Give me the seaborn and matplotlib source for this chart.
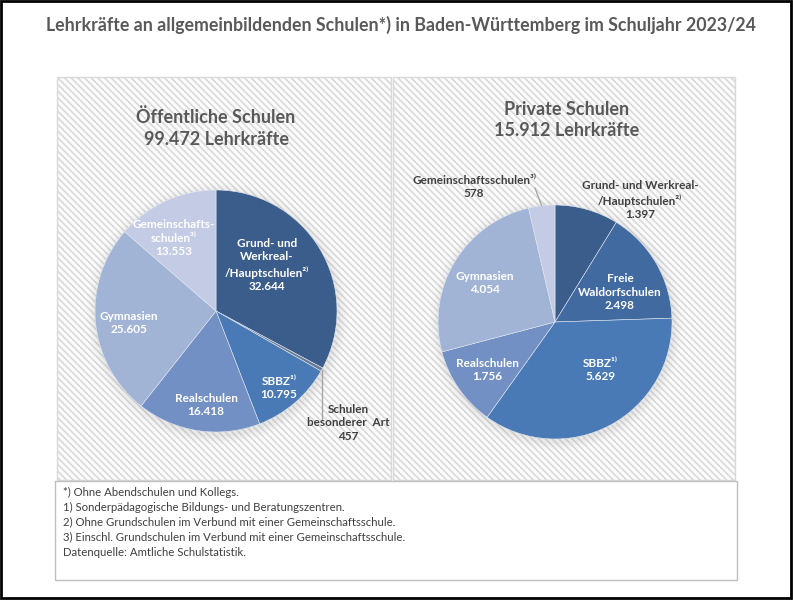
import matplotlib
matplotlib.use("Agg")
import matplotlib.pyplot as plt
import seaborn as sns
import numpy as np
from matplotlib.patches import Rectangle, Circle

# Daten (Lehrkräfte, Schuljahr 2023/24)
oeff_kategorien = ["Grund- und\nWerkreal-\n/Hauptschulen²⁾", "Schulen\nbesonderer  Art", "SBBZ¹⁾",
                   "Realschulen", "Gymnasien", "Gemeinschafts-\nschulen³⁾"]
oeff_werte = [32644, 457, 10795, 16418, 25605, 13553]
priv_kategorien = ["Grund- und Werkreal-\n/Hauptschulen²⁾", "Freie\nWaldorfschulen", "SBBZ¹⁾",
                   "Realschulen", "Gymnasien", "Gemeinschaftsschulen³⁾"]
priv_werte = [1397, 2498, 5629, 1756, 4054, 578]

oeff_farben = ["#3A5D8C", "#6A7C96", "#4A7AB5", "#7290C4", "#A2B4D6", "#C3CCE4"]
priv_farben = ["#3A5D8C", "#416AA0", "#4A7AB5", "#7290C4", "#A2B4D6", "#C3CCE4"]

titel = "Lehrkräfte an allgemeinbildenden Schulen*) in Baden-Württemberg im Schuljahr 2023/24"
fussnoten = ["*) Ohne Abendschulen und Kollegs.",
             "1) Sonderpädagogische Bildungs- und Beratungszentren.",
             "2) Ohne Grundschulen im Verbund mit einer Gemeinschaftsschule.",
             "3) Einschl. Grundschulen im Verbund mit einer Gemeinschaftsschule.",
             "Datenquelle: Amtliche Schulstatistik."]

sns.set_theme(style="white")
plt.rcParams['font.family'] = ['Lato', 'DejaVu Sans']
plt.rcParams['hatch.linewidth'] = 1.2
plt.rcParams['hatch.color'] = "#EEEEEE"

W, H = 793, 600
fig = plt.figure(figsize=(W / 100, H / 100), dpi=100)


def pixel_axes(z):
    ax = fig.add_axes([0, 0, 1, 1], zorder=z)
    ax.set_xlim(0, W)
    ax.set_ylim(H, 0)
    ax.axis('off')
    return ax


def fmt(v):
    return f"{v:,}".replace(",", ".")


bg = pixel_axes(0)
# Rahmen
bg.add_patch(Rectangle((1, 1), W - 3, H - 3, fill=False, edgecolor="black", lw=2))
# Panels mit Schraffur
bg.add_patch(Rectangle((57, 77), 334, 403, facecolor="#FCFCFC", edgecolor="#D9D9D9",
                       hatch="\\\\\\\\\\", lw=1))
bg.add_patch(Rectangle((393, 77), 342, 403, facecolor="#FCFCFC", edgecolor="#D9D9D9",
                       hatch="\\\\\\\\\\", lw=1))
bg.add_patch(Rectangle((55, 481), 682, 99, facecolor="white", edgecolor="#BFBFBF", lw=1))

top = pixel_axes(2)


def draw_pie(werte, farben, cx, cy, R):
    ax = fig.add_axes([(cx - R) / W, 1 - (cy + R) / H, 2 * R / W, 2 * R / H], zorder=1)
    # weicher Schatten
    for i, a in enumerate([0.05, 0.04, 0.03, 0.02]):
        ax.add_patch(Circle((0.01, -0.02), 1 + 0.02 * (i + 1), color="#808080", alpha=a,
                            lw=0, clip_on=False))
    wedges, _ = ax.pie(werte, colors=farben, startangle=90, counterclock=False, radius=1,
                       wedgeprops=dict(linewidth=0.4, edgecolor="#E0E6F0"))
    ax.set_xlim(-1, 1)
    ax.set_ylim(-1, 1)
    ax.set_aspect('equal')
    ax.axis('off')
    # Randpunkte der Segmentmitte in Pixeln
    pts = []
    for w in wedges:
        t = np.deg2rad((w.theta1 + w.theta2) / 2)
        pts.append((cx + R * np.cos(t), cy - R * np.sin(t)))
    return pts


oeff_pts = draw_pie(oeff_werte, oeff_farben, 216, 311, 121)
priv_pts = draw_pie(priv_werte, priv_farben, 555, 322, 117)

top.text(W / 2 + 4, 25, titel, ha="center", va="center", fontsize=12.8, fontweight="bold",
         color="#595959")

top.text(216, 128, "Öffentliche Schulen\n99.472 Lehrkräfte", ha="center", va="center",
         fontsize=13, fontweight="bold", color="#595959", linespacing=1.35)
top.text(567, 120, "Private Schulen\n15.912 Lehrkräfte", ha="center", va="center",
         fontsize=13, fontweight="bold", color="#595959", linespacing=1.35)

dunkel = "#404040"
oeff_pos = [(267, 265), (348, 423), (279, 388), (206, 405), (129, 323), (174, 238)]
oeff_txtfarbe = ["white", dunkel, "white", "white", "white", "white"]
for name, v, (x, y), c in zip(oeff_kategorien, oeff_werte, oeff_pos, oeff_txtfarbe):
    top.text(x, y, f"{name}\n{fmt(v)}", ha="center", va="center", fontsize=8.5,
             fontweight="bold", color=c, linespacing=1.3)

priv_pos = [(640, 200), (620, 292), (600, 370), (487, 370), (485, 283), (474, 187)]
priv_txtfarbe = [dunkel, "white", "white", "white", "white", dunkel]
for name, v, (x, y), c in zip(priv_kategorien, priv_werte, priv_pos, priv_txtfarbe):
    top.text(x, y, f"{name}\n{fmt(v)}", ha="center", va="center", fontsize=8.5,
             fontweight="bold", color=c, linespacing=1.3)

# Führungslinien
px, py = oeff_pts[1]
top.plot([px, px], [py, 420], color="#A6A6A6", lw=1)
px, py = priv_pts[5]
top.plot([px, 535], [py, 188], color="#A6A6A6", lw=1)

for i, zeile in enumerate(fussnoten):
    top.text(63, 492 + 15 * i, zeile, ha="left", va="center", fontsize=8.2, color=dunkel)

fig.savefig("out.png", dpi=100)
